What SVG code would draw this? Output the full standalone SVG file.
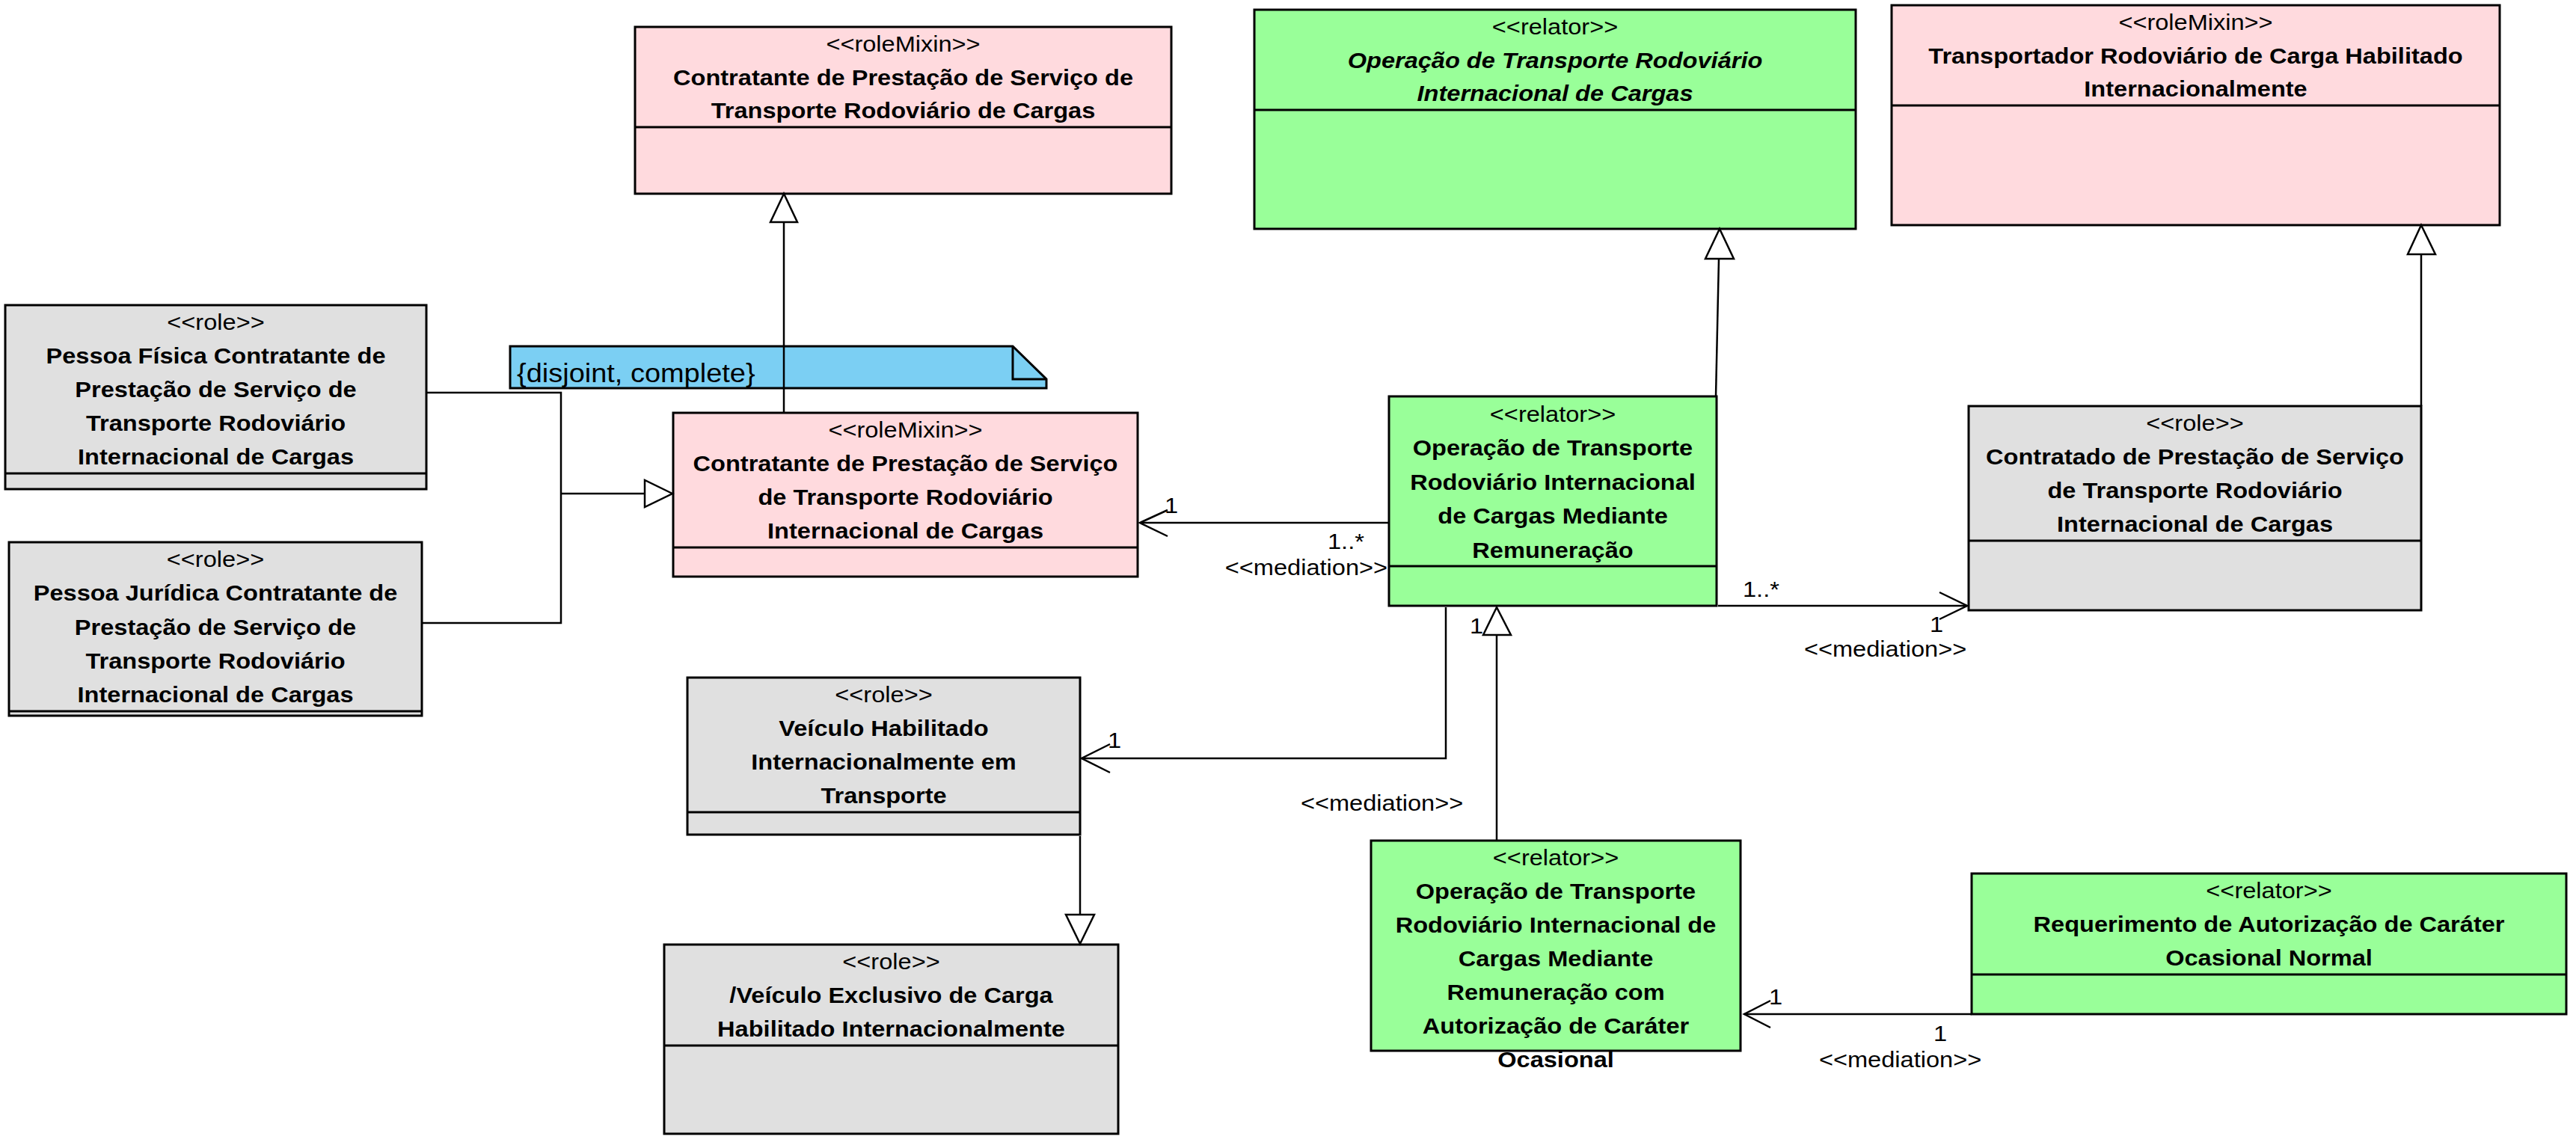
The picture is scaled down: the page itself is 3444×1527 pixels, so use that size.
<svg xmlns="http://www.w3.org/2000/svg" width="3444" height="1527" viewBox="0 0 3444 1527">
<style>
.box{stroke:#000;stroke-width:3}
.pink{fill:#FFDADE}
.green{fill:#99FF99}
.gray{fill:#E0E0E0}
.dv{stroke:#000;stroke-width:3}
text{font-family:"Liberation Sans",Arial,sans-serif;font-size:30px;fill:#000}
.t{text-anchor:middle}
.e{text-anchor:end}
.b{font-weight:bold}
.i{font-style:italic;font-weight:bold}
.ln{stroke:#000;stroke-width:2.5;fill:none}
.tri{fill:#fff;stroke:#000;stroke-width:2.5;stroke-linejoin:miter}
.note{fill:#7BCFF3;stroke:#000;stroke-width:3}
</style>
<rect width="3444" height="1527" fill="#fff"/>

<g id="note-disjoint">
<polygon class="note" points="682,463 1354,463 1399,507 1399,519 682,519"/>
<polyline class="ln" points="1354,463 1354,507 1399,507" style="stroke-width:3"/>
<text style="font-size:35px" transform="translate(691 511) scale(1.085 1)">{disjoint, complete}</text>
</g>

<g id="nodeA">
<rect class="box pink" x="849" y="36" width="717" height="223"/>
<line class="dv" x1="849" y1="170" x2="1566" y2="170"/>
<text class="t" transform="translate(1207.5 0) scale(1.085 1)"><tspan x="0" y="69">&lt;&lt;roleMixin&gt;&gt;</tspan><tspan class="b" x="0" y="114">Contratante de Prestação de Serviço de</tspan><tspan class="b" x="0" y="158">Transporte Rodoviário de Cargas</tspan></text>
</g>

<g id="nodeB">
<rect class="box green" x="1677" y="13" width="804" height="293"/>
<line class="dv" x1="1677" y1="147" x2="2481" y2="147"/>
<text class="t" transform="translate(2079 0) scale(1.085 1)"><tspan x="0" y="46">&lt;&lt;relator&gt;&gt;</tspan><tspan class="i" x="0" y="91">Operação de Transporte Rodoviário</tspan><tspan class="i" x="0" y="135">Internacional de Cargas</tspan></text>
</g>

<g id="nodeC">
<rect class="box pink" x="2529" y="7" width="813" height="294"/>
<line class="dv" x1="2529" y1="141" x2="3342" y2="141"/>
<text class="t" transform="translate(2935.5 0) scale(1.085 1)"><tspan x="0" y="40">&lt;&lt;roleMixin&gt;&gt;</tspan><tspan class="b" x="0" y="85">Transportador Rodoviário de Carga Habilitado</tspan><tspan class="b" x="0" y="129">Internacionalmente</tspan></text>
</g>

<g id="nodeD">
<rect class="box green" x="1857" y="530" width="438" height="280"/>
<line class="dv" x1="1857" y1="757" x2="2295" y2="757"/>
<text class="t" transform="translate(2076 0) scale(1.085 1)"><tspan x="0" y="564">&lt;&lt;relator&gt;&gt;</tspan><tspan class="b" x="0" y="609">Operação de Transporte</tspan><tspan class="b" x="0" y="655">Rodoviário Internacional</tspan><tspan class="b" x="0" y="700">de Cargas Mediante</tspan><tspan class="b" x="0" y="746">Remuneração</tspan></text>
</g>

<g id="nodeE">
<rect class="box gray" x="2632" y="543" width="605" height="273"/>
<line class="dv" x1="2632" y1="723" x2="3237" y2="723"/>
<text class="t" transform="translate(2934.5 0) scale(1.085 1)"><tspan x="0" y="576">&lt;&lt;role&gt;&gt;</tspan><tspan class="b" x="0" y="621">Contratado de Prestação de Serviço</tspan><tspan class="b" x="0" y="666">de Transporte Rodoviário</tspan><tspan class="b" x="0" y="711">Internacional de Cargas</tspan></text>
</g>

<g id="nodeF">
<rect class="box pink" x="900" y="552" width="621" height="219"/>
<line class="dv" x1="900" y1="732" x2="1521" y2="732"/>
<text class="t" transform="translate(1210.5 0) scale(1.085 1)"><tspan x="0" y="585">&lt;&lt;roleMixin&gt;&gt;</tspan><tspan class="b" x="0" y="630">Contratante de Prestação de Serviço</tspan><tspan class="b" x="0" y="675">de Transporte Rodoviário</tspan><tspan class="b" x="0" y="720">Internacional de Cargas</tspan></text>
</g>

<g id="nodeG">
<rect class="box gray" x="7" y="408" width="563" height="246"/>
<line class="dv" x1="7" y1="633" x2="570" y2="633"/>
<text class="t" transform="translate(288.5 0) scale(1.085 1)"><tspan x="0" y="441">&lt;&lt;role&gt;&gt;</tspan><tspan class="b" x="0" y="486">Pessoa Física Contratante de</tspan><tspan class="b" x="0" y="531">Prestação de Serviço de</tspan><tspan class="b" x="0" y="576">Transporte Rodoviário</tspan><tspan class="b" x="0" y="621">Internacional de Cargas</tspan></text>
</g>

<g id="nodeH">
<rect class="box gray" x="12" y="725" width="552" height="232"/>
<line class="dv" x1="12" y1="951" x2="564" y2="951"/>
<text class="t" transform="translate(288 0) scale(1.085 1)"><tspan x="0" y="758">&lt;&lt;role&gt;&gt;</tspan><tspan class="b" x="0" y="803">Pessoa Jurídica Contratante de</tspan><tspan class="b" x="0" y="849">Prestação de Serviço de</tspan><tspan class="b" x="0" y="894">Transporte Rodoviário</tspan><tspan class="b" x="0" y="939">Internacional de Cargas</tspan></text>
</g>

<g id="nodeI">
<rect class="box gray" x="919" y="906" width="525" height="210"/>
<line class="dv" x1="919" y1="1086" x2="1444" y2="1086"/>
<text class="t" transform="translate(1181.5 0) scale(1.085 1)"><tspan x="0" y="939">&lt;&lt;role&gt;&gt;</tspan><tspan class="b" x="0" y="984">Veículo Habilitado</tspan><tspan class="b" x="0" y="1029">Internacionalmente em</tspan><tspan class="b" x="0" y="1074">Transporte</tspan></text>
</g>

<g id="nodeJ">
<rect class="box gray" x="888" y="1263" width="607" height="253"/>
<line class="dv" x1="888" y1="1398" x2="1495" y2="1398"/>
<text class="t" transform="translate(1191.5 0) scale(1.085 1)"><tspan x="0" y="1296">&lt;&lt;role&gt;&gt;</tspan><tspan class="b" x="0" y="1341">/Veículo Exclusivo de Carga</tspan><tspan class="b" x="0" y="1386">Habilitado Internacionalmente</tspan></text>
</g>

<g id="nodeK">
<rect class="box green" x="1833" y="1124" width="494" height="281"/>
<text class="t" transform="translate(2080 0) scale(1.085 1)"><tspan x="0" y="1157">&lt;&lt;relator&gt;&gt;</tspan><tspan class="b" x="0" y="1202">Operação de Transporte</tspan><tspan class="b" x="0" y="1247">Rodoviário Internacional de</tspan><tspan class="b" x="0" y="1292">Cargas Mediante</tspan><tspan class="b" x="0" y="1337">Remuneração com</tspan><tspan class="b" x="0" y="1382">Autorização de Caráter</tspan><tspan class="b" x="0" y="1427">Ocasional</tspan></text>
</g>

<g id="nodeL">
<rect class="box green" x="2636" y="1168" width="795" height="188"/>
<line class="dv" x1="2636" y1="1303" x2="3431" y2="1303"/>
<text class="t" transform="translate(3033.5 0) scale(1.085 1)"><tspan x="0" y="1201">&lt;&lt;relator&gt;&gt;</tspan><tspan class="b" x="0" y="1246">Requerimento de Autorização de Caráter</tspan><tspan class="b" x="0" y="1291">Ocasional Normal</tspan></text>
</g>

<g id="connectors">
<!-- generalization F -> A -->
<line class="ln" x1="1048" y1="552" x2="1048" y2="297"/>
<polygon class="tri" points="1048,259 1030,297 1066,297"/>
<!-- generalization G,H -> F -->
<polyline class="ln" points="570,525 750,525 750,833 564,833"/>
<line class="ln" x1="750" y1="660" x2="862" y2="660"/>
<polygon class="tri" points="899,660 862,642 862,678"/>
<!-- generalization D -> B -->
<line class="ln" x1="2294" y1="530" x2="2298" y2="346"/>
<polygon class="tri" points="2299,306 2280,346 2318,346"/>
<!-- generalization E -> C -->
<line class="ln" x1="3237" y1="543" x2="3237" y2="340"/>
<polygon class="tri" points="3237,301 3219,340 3256,340"/>
<!-- generalization K -> D -->
<line class="ln" x1="2001" y1="1124" x2="2001" y2="849"/>
<polygon class="tri" points="2001,812 1983,849 2020,849"/>
<!-- generalization I -> J -->
<line class="ln" x1="1444" y1="1118" x2="1444" y2="1223"/>
<polygon class="tri" points="1444,1262 1425,1223 1463,1223"/>
<!-- mediation D -> F -->
<line class="ln" x1="1857" y1="699" x2="1524" y2="699"/>
<polyline class="ln" points="1561,682 1524,699 1561,717"/>
<text transform="translate(1557 686) scale(1.085 1)">1</text>
<text transform="translate(1775 734) scale(1.085 1)">1..*</text>
<text class="e" transform="translate(1855 769) scale(1.085 1)">&lt;&lt;mediation&gt;&gt;</text>
<!-- mediation D -> E -->
<line class="ln" x1="2297" y1="810" x2="2630" y2="810"/>
<polyline class="ln" points="2593,792 2630,810 2593,828"/>
<text transform="translate(2330 798) scale(1.085 1)">1..*</text>
<text transform="translate(2580 845) scale(1.085 1)">1</text>
<text transform="translate(2412 878) scale(1.085 1)">&lt;&lt;mediation&gt;&gt;</text>
<!-- mediation D -> I -->
<polyline class="ln" points="1933,812 1933,1014 1446,1014"/>
<polyline class="ln" points="1484,995 1446,1014 1484,1033"/>
<text transform="translate(1481 1000) scale(1.085 1)">1</text>
<text transform="translate(1965 847) scale(1.085 1)">1</text>
<text transform="translate(1739 1084) scale(1.085 1)">&lt;&lt;mediation&gt;&gt;</text>
<!-- mediation L -> K -->
<line class="ln" x1="2636" y1="1356" x2="2332" y2="1356"/>
<polyline class="ln" points="2367,1338 2332,1356 2367,1374"/>
<text transform="translate(2365 1343) scale(1.085 1)">1</text>
<text transform="translate(2585 1392) scale(1.085 1)">1</text>
<text transform="translate(2432 1427) scale(1.085 1)">&lt;&lt;mediation&gt;&gt;</text>
</g>
</svg>
